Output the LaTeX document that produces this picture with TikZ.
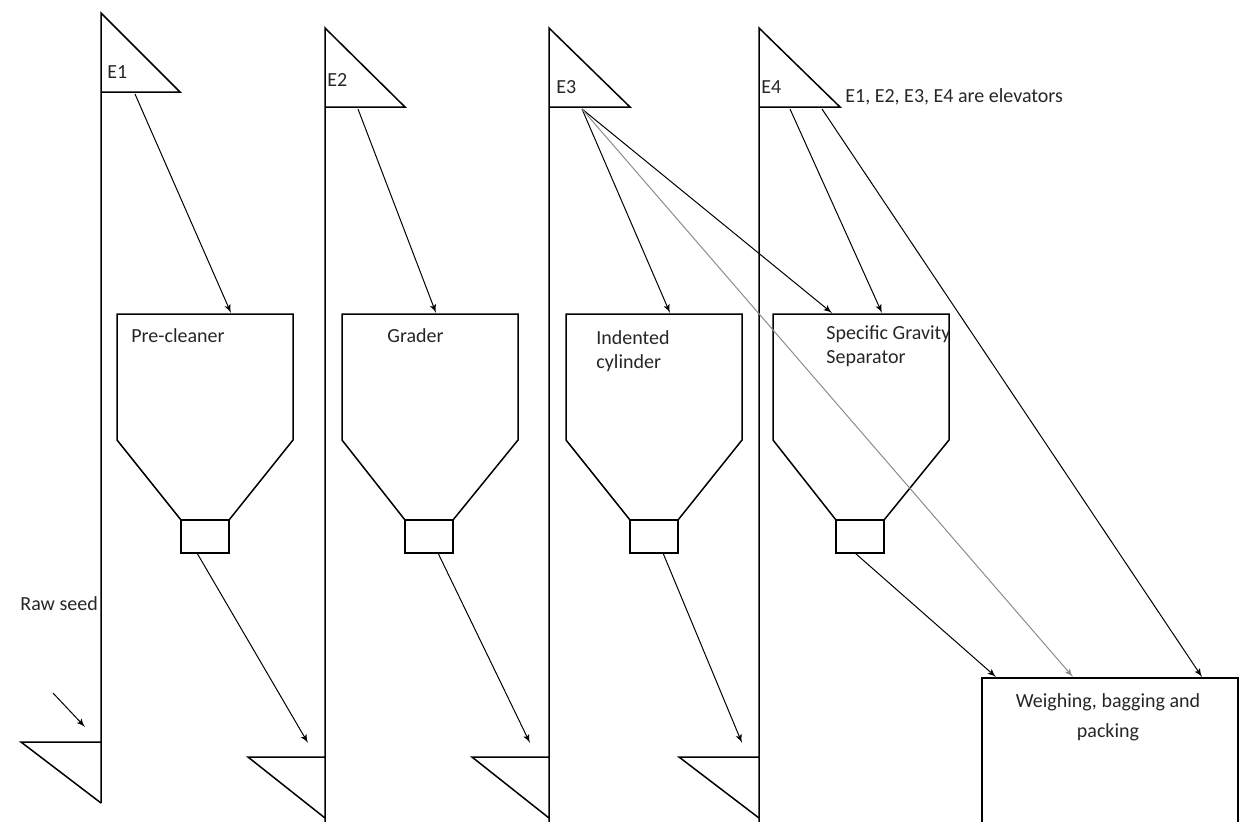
\documentclass[tikz,border=0pt]{standalone}
\usepackage{fontspec}
\setmainfont{Carlito}
\usepackage{tikz}
\tikzset{>=latex}
\usetikzlibrary{arrows}

\begin{document}
\begin{tikzpicture}[x=0.5pt,y=-0.5pt]
			\tikzset{edge/.style = {->,> = latex', line width=0.5pt}}
			\tikzset{faint/.style = {edge, draw=black!45}}
			\tikzset{outline/.style = {line width=0.75pt, line join=miter}}
			\tikzset{label/.style = {inner sep=0pt, font=\fontsize{10}{12}\selectfont, text=black!85}}

			\useasboundingbox (0,0) rectangle (1254,821);
			\clip (0,0) rectangle (1254,821);

			% elevators
			\draw[outline] (101,803) -- (101,13) -- (180,92) -- (101,92);
			\draw[outline] (101,742) -- (21,742) -- (101,803);
			\draw[outline] (325,830) -- (325,28) -- (405,107) -- (325,107);
			\draw[outline] (325,757) -- (248,757) -- (325,818);
			\draw[outline] (549,830) -- (549,28) -- (630,107) -- (549,107);
			\draw[outline] (549,757) -- (472,757) -- (549,818);
			\draw[outline] (759,830) -- (759,28) -- (840,107) -- (759,107);
			\draw[outline] (759,757) -- (679,757) -- (759,818);

			% hoppers
			\draw[outline] (117,314) -- (293,314) -- (293,440) -- (229,520) -- (181,520) -- (117,440) -- cycle;
			\draw[outline] (181,520) rectangle (229,553);
			\draw[outline] (342,314) -- (518,314) -- (518,440) -- (453,520) -- (405,520) -- (342,440) -- cycle;
			\draw[outline] (405,520) rectangle (453,553);
			\draw[outline] (566,314) -- (742,314) -- (742,440) -- (678,520) -- (630,520) -- (566,440) -- cycle;
			\draw[outline] (630,520) rectangle (678,553);
			\draw[outline] (773,314) -- (949,314) -- (949,440) -- (884,520) -- (836,520) -- (773,440) -- cycle;
			\draw[outline] (836,520) rectangle (884,553);

			% packing
			\draw[outline] (982,830) -- (982,678) -- (1238,678) -- (1238,830);

			\node[label, anchor=west] (e1) at (107,72) {E1};
			\node[label, anchor=west] (e2) at (327,80) {E2};
			\node[label, anchor=west] (e3) at (556,87) {E3};
			\node[label, anchor=west] (e4) at (761,87) {E4};
			\node[label, anchor=west] (note) at (845,97) {E1, E2, E3, E4 are elevators};
			\node[label, anchor=west] (raw) at (20,604) {Raw seed};
			\node[label, anchor=west] (pc) at (131,336) {Pre-cleaner};
			\node[label, anchor=west] (gr) at (387,336) {Grader};
			\node[label, anchor=north west, align=left] (ic) at (596,330) {Indented\\cylinder};
			\node[label, anchor=north west, align=left] (sg) at (826,325) {Specific Gravity\\Separator};
			\node[label, anchor=north, align=center, font=\fontsize{10}{15}\selectfont] (wb) at (1108,693) {Weighing, bagging and\\packing};

			\coordinate (e1out) at (135,94);
			\coordinate (e2out) at (358,109);
			\coordinate (e3out) at (582,109);
			\coordinate (e4outa) at (790,109);
			\coordinate (e4outb) at (822,109);
			\coordinate (pcin) at (231,313);
			\coordinate (grin) at (436,313);
			\coordinate (icin) at (670,313);
			\coordinate (sgina) at (832,313);
			\coordinate (sginb) at (882,313);
			\coordinate (pcout) at (197,553);
			\coordinate (grout) at (438,553);
			\coordinate (icout) at (663,553);
			\coordinate (sgout) at (855,553);
			\coordinate (e2in) at (308,743);
			\coordinate (e3in) at (530,743);
			\coordinate (e4in) at (742,743);
			\coordinate (wba) at (996,677);
			\coordinate (wbb) at (1073,677);
			\coordinate (wbc) at (1202,677);
			\coordinate (rawfrom) at (53,693);
			\coordinate (e1in) at (85,727);

			\draw[edge] (rawfrom) to (e1in);
			\draw[edge] (e1out) to (pcin);
			\draw[edge] (pcout) to (e2in);
			\draw[edge] (e2out) to (grin);
			\draw[edge] (grout) to (e3in);
			\draw[edge] (e3out) to (icin);
			\draw[edge] (e3out) to (sgina);
			\draw[faint] (e3out) to (wbb);
			\draw[edge] (icout) to (e4in);
			\draw[edge] (e4outa) to (sginb);
			\draw[edge] (e4outb) to (wbc);
			\draw[edge] (sgout) to (wba);
		\end{tikzpicture}
\end{document}
